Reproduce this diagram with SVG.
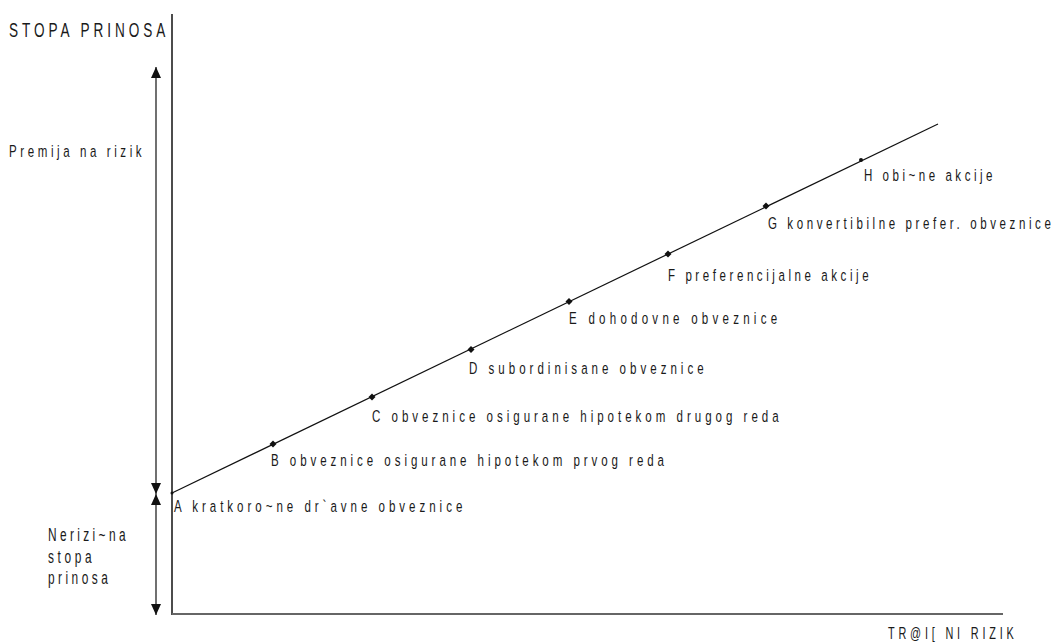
<svg xmlns="http://www.w3.org/2000/svg" width="1056" height="643" viewBox="0 0 1056 643">
<style>
text{font-family:"Liberation Sans",Arial,sans-serif;fill:#1a1a1a}
.lbl{font-size:17px}
.ln{stroke:#111;stroke-width:1.2;fill:none}
.pt{fill:#111}
</style>
<defs>
<marker id="ah" viewBox="0 0 12 10" refX="11" refY="5" markerWidth="12" markerHeight="10" markerUnits="userSpaceOnUse" orient="auto-start-reverse">
<path d="M0,0 L11,5 L0,10 Z" fill="#111"/>
</marker>
</defs>
<rect width="1056" height="643" fill="#fff"/>
<g id="axes">
<line x1="172" y1="14" x2="172" y2="615" stroke="#111" stroke-width="1.5"/>
<line x1="172" y1="614" x2="1003" y2="614" stroke="#666" stroke-width="2"/>
</g>
<g id="connectors">
<line class="ln" x1="156" y1="67" x2="156" y2="494" marker-start="url(#ah)" marker-end="url(#ah)"/>
<line class="ln" x1="156" y1="494" x2="156" y2="615" marker-start="url(#ah)" marker-end="url(#ah)"/>
<line class="ln" x1="172" y1="493" x2="938" y2="124"/>
</g>
<g id="axis-labels">
<text transform="translate(9,37) scale(0.68,1)" font-size="20" textLength="230" lengthAdjust="spacing">STOPA PRINOSA</text>
<text transform="translate(888,639) scale(0.68,1)" font-size="16" textLength="185" lengthAdjust="spacing">TR@I[ NI RIZIK</text>
<text transform="translate(9,157) scale(0.68,1)" class="lbl" textLength="195" lengthAdjust="spacing">Premija na rizik</text>
<text transform="translate(48,541) scale(0.68,1)" font-size="17.5" textLength="114" lengthAdjust="spacing">Nerizi~na</text>
<text transform="translate(48,563) scale(0.68,1)" font-size="17.5" textLength="64" lengthAdjust="spacing">stopa</text>
<text transform="translate(48,584) scale(0.68,1)" font-size="17.5" textLength="88" lengthAdjust="spacing">prinosa</text>
</g>
<g id="node-A">
<circle class="pt" cx="172" cy="493" r="1.5"/>
<text transform="translate(174,512) scale(0.68,1)" class="lbl" textLength="424" lengthAdjust="spacing">A kratkoro~ne dr`avne obveznice</text>
</g>
<g id="node-B">
<path class="pt" d="M273,440.5 L276.5,444 L273,447.5 L269.5,444 Z"/>
<text transform="translate(271,466) scale(0.68,1)" class="lbl" textLength="578" lengthAdjust="spacing">B obveznice osigurane hipotekom prvog reda</text>
</g>
<g id="node-C">
<path class="pt" d="M372,393.5 L375.5,397 L372,400.5 L368.5,397 Z"/>
<text transform="translate(372,422) scale(0.68,1)" class="lbl" textLength="598" lengthAdjust="spacing">C obveznice osigurane hipotekom drugog reda</text>
</g>
<g id="node-D">
<path class="pt" d="M471,346 L474.5,349.5 L471,353 L467.5,349.5 Z"/>
<text transform="translate(469,374) scale(0.68,1)" class="lbl" textLength="345" lengthAdjust="spacing">D subordinisane obveznice</text>
</g>
<g id="node-E">
<path class="pt" d="M569,298 L572.5,301.5 L569,305 L565.5,301.5 Z"/>
<text transform="translate(569,324) scale(0.68,1)" class="lbl" textLength="306" lengthAdjust="spacing">E dohodovne obveznice</text>
</g>
<g id="node-F">
<path class="pt" d="M668,250.5 L671.5,254 L668,257.5 L664.5,254 Z"/>
<text transform="translate(668,281) scale(0.68,1)" class="lbl" textLength="295" lengthAdjust="spacing">F preferencijalne akcije</text>
</g>
<g id="node-G">
<path class="pt" d="M766,202.5 L769.5,206 L766,209.5 L762.5,206 Z"/>
<text transform="translate(768,229) scale(0.68,1)" class="lbl" textLength="416" lengthAdjust="spacing">G konvertibilne prefer. obveznice</text>
</g>
<g id="node-H">
<circle class="pt" cx="861" cy="160" r="2"/>
<text transform="translate(864,181) scale(0.68,1)" class="lbl" textLength="189" lengthAdjust="spacing">H obi~ne akcije</text>
</g>
</svg>
